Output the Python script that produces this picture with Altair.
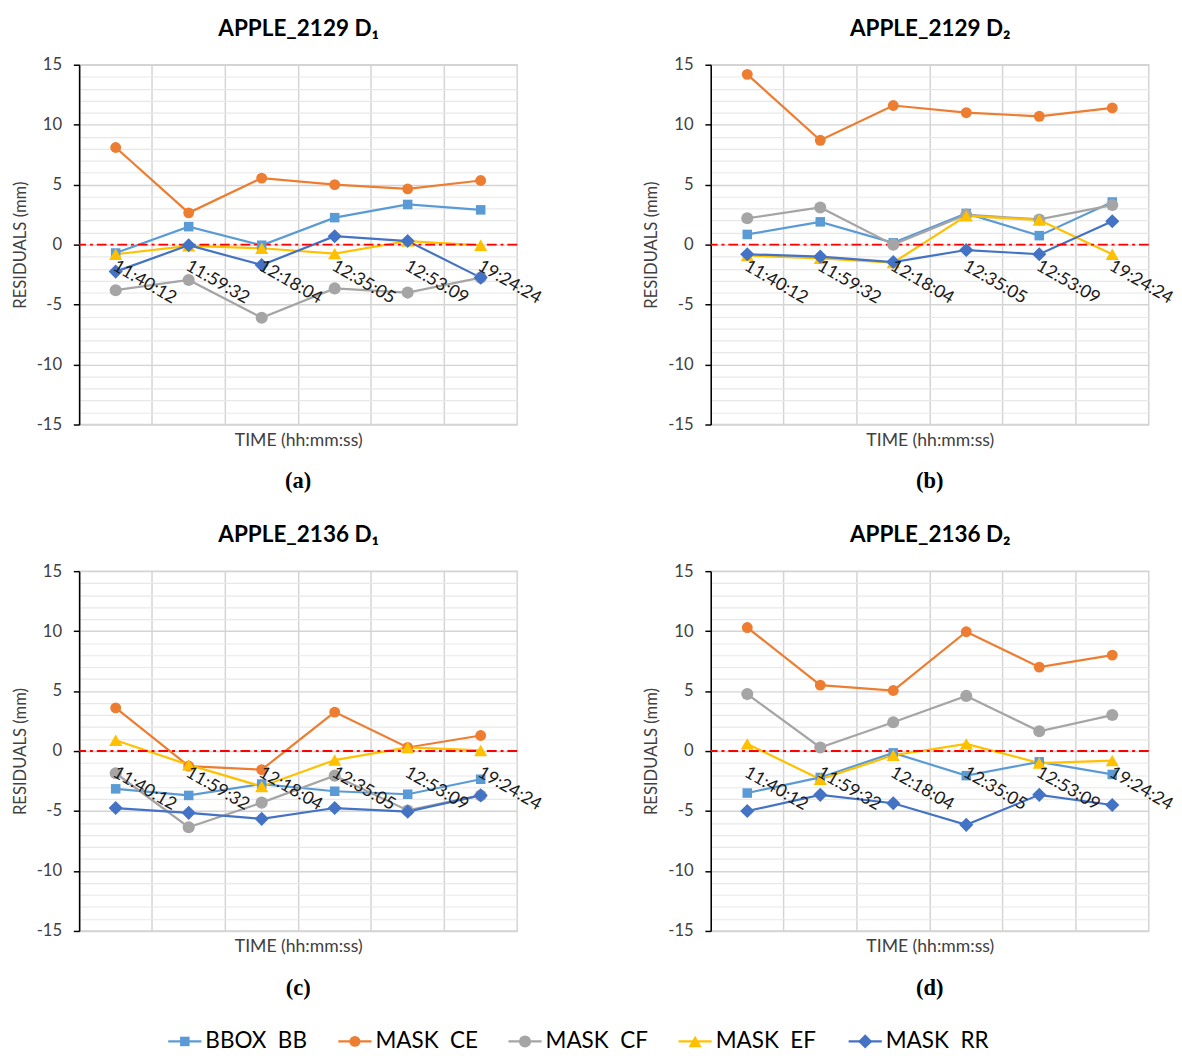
import altair as alt
import pandas as pd

times = ["11:40:12", "11:59:32", "12:18:04", "12:35:05", "12:53:09", "19:24:24"]
series = ["BBOX\u00a0 BB", "MASK\u00a0 CE", "MASK\u00a0 CF", "MASK\u00a0 EF", "MASK\u00a0 RR"]
colors = ["#5B9BD5", "#ED7D31", "#A5A5A5", "#FFC000", "#4472C4"]
shapes = ["square", "circle", "circle", "triangle-up", "diamond"]
sizes = [95, 210, 65, 90, 60]
legend_sizes = [70, 130, 55, 75, 50]

titles = ["APPLE_2129 D\u2081", "APPLE_2129 D\u2082", "APPLE_2136 D\u2081", "APPLE_2136 D\u2082"]
captions = ["(a)", "(b)", "(c)", "(d)"]

# values per panel: BB, CE, CF, EF, RR
a_bb = [-0.7, 1.5, -0.05, 2.25, 3.35, 2.9]
a_ce = [8.1, 2.65, 5.55, 5.0, 4.65, 5.35]
a_cf = [-3.8, -2.95, -6.1, -3.65, -4.0, -2.75]
a_ef = [-0.8, -0.1, -0.3, -0.75, 0.3, -0.05]
a_rr = [-2.25, -0.05, -1.7, 0.7, 0.3, -2.75]

b_bb = [0.85, 1.9, 0.15, 2.6, 0.75, 3.55]
b_ce = [14.2, 8.7, 11.6, 11.0, 10.7, 11.4]
b_cf = [2.2, 3.1, 0.0, 2.5, 2.1, 3.3]
b_ef = [-0.9, -1.15, -1.5, 2.4, 2.05, -0.8]
b_rr = [-0.8, -1.0, -1.45, -0.45, -0.8, 1.95]

c_bb = [-3.15, -3.7, -2.75, -3.35, -3.6, -2.35]
c_ce = [3.6, -1.25, -1.55, 3.25, 0.3, 1.3]
c_cf = [-1.85, -6.35, -4.3, -2.05, -4.95, -3.7]
c_ef = [0.9, -1.15, -2.95, -0.75, 0.3, 0.05]
c_rr = [-4.75, -5.15, -5.65, -4.75, -5.05, -3.7]

d_bb = [-3.5, -2.2, -0.15, -2.05, -0.9, -1.95]
d_ce = [10.3, 5.5, 5.05, 9.95, 7.0, 8.0]
d_cf = [4.75, 0.3, 2.4, 4.6, 1.65, 3.0]
d_ef = [0.6, -2.35, -0.35, 0.6, -1.0, -0.8]
d_rr = [-5.0, -3.65, -4.35, -6.15, -3.65, -4.5]

panel_values = [
    [a_bb, a_ce, a_cf, a_ef, a_rr],
    [b_bb, b_ce, b_cf, b_ef, b_rr],
    [c_bb, c_ce, c_cf, c_ef, c_rr],
    [d_bb, d_ce, d_cf, d_ef, d_rr],
]

major_ticks = [-15, -10, -5, 0, 5, 10, 15]
minor_ticks = [v for v in range(-15, 16) if v % 5 != 0]
zero_level = 0

FONT = "Lato"
W, H = 448, 368

cscale = alt.Scale(domain=series, range=colors)
sscale = alt.Scale(domain=series, range=shapes)
zscale = alt.Scale(domain=series, range=sizes)
yscale = alt.Scale(domain=[-15, 15], nice=False)


def x_enc(axis):
    return alt.X("time:N", sort=times,
                 scale=alt.Scale(type="band", paddingInner=0, paddingOuter=0),
                 bandPosition=0.5, axis=axis)


def make_panel(i):
    vals = panel_values[i]
    rows = []
    for s_i, s in enumerate(series):
        for t_i, t in enumerate(times):
            rows.append({"time": t, "series": s, "value": vals[s_i][t_i], "k": s_i})
    df = pd.DataFrame(rows)

    y_axis = alt.Axis(
        values=major_ticks, title="RESIDUALS (mm)",
        labelExpr="'' + datum.value",
        labelOverlap=False, labelFont=FONT, labelFontSize=17, labelColor="#404040",
        labelPadding=12,
        gridColor="#d4d4d4", gridWidth=1.4,
        tickColor="black", tickSize=6, tickWidth=1.5,
        domainColor="black", domainWidth=1.5,
        titleFont=FONT, titleFontSize=17, titleFontWeight="normal", titleColor="#404040",
        titlePadding=7,
    )
    minor_axis = alt.Axis(
        orient="right", values=minor_ticks, title="", labels=False, ticks=False,
        domain=False, grid=True, gridColor="#e8e8e8", gridWidth=1.2,
    )

    bottom_axis = alt.Axis(
        title="TIME (hh:mm:ss)", labels=False, ticks=False, domain=False, grid=True,
        gridColor="#d4d4d4", gridWidth=1.5, bandPosition=0,
        titleFont=FONT, titleFontSize=18, titleFontWeight="normal", titleColor="#404040",
        titlePadding=7,
    )
    top_axis = alt.Axis(
        orient="top", title=titles[i], labels=False, ticks=False, domain=False, grid=False,
        titleFont=FONT, titleFontSize=23, titleFontWeight="bold", titleColor="black",
        titlePadding=25,
    )

    base = alt.Chart(df)
    lines = base.mark_line(strokeWidth=2.25).encode(
        x=x_enc(bottom_axis), y=alt.Y("value:Q", scale=yscale, axis=y_axis),
        color=alt.Color("series:N", scale=cscale, legend=None),
        detail="series:N", order="k:Q",
    )
    pts = base.mark_point(filled=True, opacity=1).encode(
        x=x_enc(None), y=alt.Y("value:Q", scale=yscale, axis=None),
        color=alt.Color("series:N", scale=cscale, legend=None),
        shape=alt.Shape("series:N", scale=sscale, legend=None),
        size=alt.Size("series:N", scale=zscale, legend=None),
        order="k:Q",
    )
    zero = alt.Chart(pd.DataFrame({"z": [zero_level]})).mark_rule(
        color="#FF0000", strokeWidth=2, strokeDash=[10, 4, 3, 4]
    ).encode(y=alt.Y("z:Q", axis=minor_axis, scale=yscale))

    labels = alt.Chart(pd.DataFrame({"time": times, "z": [zero_level] * len(times)})).mark_text(
        angle=30, align="left", baseline="top", xOffset=3, yOffset=13,
        font=FONT, fontSize=18, color="#1a1a1a",
    ).encode(x=x_enc(top_axis), y=alt.Y("z:Q", scale=yscale, axis=None), text="time:N")

    return alt.layer(lines, zero, pts, labels).resolve_axis(
        x="independent", y="independent"
    ).properties(
        width=W, height=H,
        view=alt.ViewBackground(stroke="#d4d4d4", strokeWidth=1.5),
        title=alt.TitleParams(captions[i], orient="bottom", font="Liberation Serif",
                              fontSize=23, fontWeight="bold", color="black", offset=22),
    )


# legend
leg_df = pd.DataFrame({"series": series, "k": list(range(5))})
lx = alt.X("series:N", sort=series, axis=None,
           scale=alt.Scale(type="band", paddingInner=0, paddingOuter=0.121),
           bandPosition=0.5)
LH = 23
LY = 12
leg_line = alt.Chart(leg_df).mark_point(
    shape="M-1,0L1,0", size=1150, filled=False, strokeWidth=2.25, opacity=1
).encode(x=lx, y=alt.value(LY), color=alt.Color("series:N", scale=cscale, legend=None))
leg_pt = alt.Chart(leg_df).mark_point(filled=True, opacity=1).encode(
    x=lx, y=alt.value(LY),
    color=alt.Color("series:N", scale=cscale, legend=None),
    shape=alt.Shape("series:N", scale=sscale, legend=None),
    size=alt.Size("series:N", scale=alt.Scale(domain=series, range=legend_sizes), legend=None),
)
leg_txt = alt.Chart(leg_df).mark_text(
    align="left", baseline="middle", dx=21, font=FONT, fontSize=23, color="black"
).encode(x=lx, y=alt.value(LY), text="series:N")
legend = alt.layer(leg_line, leg_pt, leg_txt).properties(
    width=912, height=LH, view=alt.ViewBackground(strokeWidth=0)
)

row1 = alt.hconcat(make_panel(0), make_panel(1), spacing=99).resolve_scale(x="independent", y="independent")
row2 = alt.hconcat(make_panel(2), make_panel(3), spacing=99).resolve_scale(x="independent", y="independent")

chart = alt.vconcat(row1, row2, legend, spacing=30).resolve_scale(
    x="independent", y="independent"
).properties(
    padding={"left": 11, "top": 5, "right": 5, "bottom": 5},
    background="white",
).configure_view(strokeWidth=0)

chart.save("out.html", embed_options={"renderer": "svg", "actions": False})
